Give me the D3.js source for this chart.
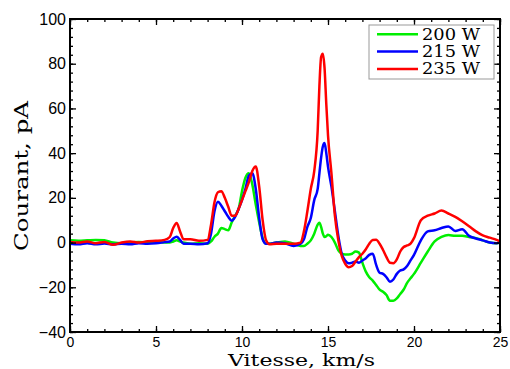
<!DOCTYPE html>
<html><head><meta charset="utf-8">
<script src="https://cdn.jsdelivr.net/npm/d3@7"></script>
<style>body{margin:0;background:#fff;} svg{display:block;}</style>
</head><body>
<svg id="c" width="510" height="369"></svg>
<script>
const speeds = [0,0.5,1,1.5,2,2.5,3,3.5,4,4.5,5,5.5,5.8,6.0,6.2,6.4,6.6,7.0,7.5,8.0,8.2,8.4,8.6,8.8,9.0,9.2,9.4,9.6,9.8,10.0,10.2,10.4,10.6,10.8,11.0,11.2,11.4,11.6,12.0,12.5,13.0,13.4,13.6,13.8,14.0,14.2,14.4,14.5,14.6,14.7,14.8,14.9,15.0,15.2,15.4,15.6,15.8,16.0,16.2,16.4,16.6,16.8,17.0,17.2,17.4,17.6,17.8,18.0,18.2,18.4,18.6,18.8,19.0,19.2,19.4,19.6,19.8,20.0,20.4,20.8,21.2,21.6,22.0,22.4,22.8,23.2,23.6,24.0,24.4,24.8,25.0];
const current200 = [1,0.8,1,1.2,1,0,-0.3,0,0.3,0,0.2,0,0,0.5,1,0.5,0,-0.5,-0.3,-0.5,0.5,2.6,4,6.5,6,5.5,9,12,15,23,29,31,26,17,9,2,-0.5,-0.5,0,0.5,-0.5,-1.5,-1.5,-0.5,1,4,8,8.9,7,4,2.5,2.8,3.5,2.5,0,-3.5,-5,-5.3,-5.3,-5,-4,-4.5,-9,-13,-15.5,-17,-19,-21,-22,-23.5,-26,-26,-25,-23,-21,-18,-16,-14,-9,-4,0.5,2.5,3.4,3,3,2.5,2,1,0,-0.3,0];
const current215 = [-0.5,-0.8,-0.3,-0.8,-0.4,-0.8,-0.5,-0.8,-0.3,-0.5,-0.3,0.2,0.5,1.8,2.6,1.2,-0.5,-0.5,-0.8,-0.3,4,14,18.3,16.5,14,11.5,9.8,11.5,15,19,24,30,31,24,11,1.5,-0.5,-0.5,0,-0.3,-1.5,-0.5,1.5,7,11,19,24,31,38,43,44.5,40,34,25,14,3,-5,-8,-9.3,-9,-8.5,-9,-8,-7,-5.5,-5,-10,-13.5,-14,-15.5,-17.5,-16.5,-14,-12.5,-12,-10.5,-8,-5.5,1,5,5.5,6.5,7.2,5.2,6,3,1.8,1,0,-0.3,0];
const current235 = [0.3,0,0.5,-0.3,0.3,-1,0,0.5,0,0.6,0.8,1.2,2.5,6.5,8.8,5,1.5,1.5,0.8,1.2,8,18,22.5,23,20,16,12,12,15,19,23,27,32,34,25,10,1,-0.8,-0.5,-0.5,-0.5,0,5,14,24,32,50,70,83,84.5,78,62,48,31,12,1,-6,-9.5,-11,-10.5,-8.5,-6.5,-5,-3,-0.5,1.2,1.3,-0.5,-3.3,-6.5,-9,-9.2,-7.5,-4,-2,-1.3,-0.5,2,10,12,13,14.3,13,11.5,9.5,7.3,5,3.2,2.2,1.2,0.5];
const seriesNames = ["200 W","215 W","235 W"];
const seriesColors = ["#00ee00","#0000ff","#ff0000"];
const xTicks = [0,5,10,15,20,25];
const yTicks = [-40,-20,0,20,40,60,80,100];
const xLabel = "Vitesse, km/s";
const yLabel = "Courant, pA";

const svg = d3.select("#c");
const L=70,R=500,T=19,B=332;
const x = d3.scaleLinear().domain([0,25]).range([L,R]);
const y = d3.scaleLinear().domain([-40,100]).range([B,T]);

const series=[current200,current215,current235];
const line = d3.line().x((d,i)=>x(speeds[i])).y(d=>y(d)).curve(d3.curveMonotoneX);
svg.append("clipPath").attr("id","cp").append("rect").attr("x",L).attr("y",T).attr("width",R-L).attr("height",B-T);
series.forEach((s,k)=>{
  svg.append("path").attr("d",line(s)).attr("fill","none").attr("stroke",seriesColors[k]).attr("stroke-width",2.5).attr("stroke-linejoin","round").attr("clip-path","url(#cp)");
});

const tickFont = "'Liberation Sans', Arial, sans-serif";
const minorX = d3.range(0,25.01,1);
const minorY = d3.range(-40,100.01,4);
const axB = d3.axisBottom(x).tickValues(xTicks).tickSize(-6).tickPadding(5).tickFormat(d3.format("d"));
const axBm = d3.axisBottom(x).tickValues(minorX).tickSize(-3).tickFormat("");
const axT = d3.axisTop(x).tickValues(xTicks).tickSize(-6).tickFormat("");
const axTm = d3.axisTop(x).tickValues(minorX).tickSize(-3).tickFormat("");
const axL = d3.axisLeft(y).tickValues(yTicks).tickSize(-6).tickPadding(4).tickFormat(d3.format("d"));
const axLm = d3.axisLeft(y).tickValues(minorY).tickSize(-3).tickFormat("");
const axR = d3.axisRight(y).tickValues(yTicks).tickSize(-6).tickFormat("");
const axRm = d3.axisRight(y).tickValues(minorY).tickSize(-3).tickFormat("");

function place(ax,tr,fs){
  const g=svg.append("g").attr("transform",tr).call(ax);
  g.select(".domain").remove();
  g.selectAll(".tick line").attr("stroke","#000").attr("stroke-width",1.3);
  g.selectAll("text").attr("fill","#000").style("font-family",tickFont).style("font-size",fs||"16px");
  return g;
}
place(axBm,`translate(0,${B})`); place(axB,`translate(0,${B})`,"14px");
place(axTm,`translate(0,${T})`); place(axT,`translate(0,${T})`);
place(axLm,`translate(${L},0)`); place(axL,`translate(${L},0)`,"16px");
place(axRm,`translate(${R},0)`); place(axR,`translate(${R},0)`);

svg.append("rect").attr("x",L).attr("y",T).attr("width",R-L).attr("height",B-T).attr("fill","none").attr("stroke","#000").attr("stroke-width",2);

const serif = "'DejaVu Serif', 'Liberation Serif', serif";
svg.append("text").attr("x",301.5).attr("y",365.5).attr("text-anchor","middle")
  .attr("textLength",147).attr("lengthAdjust","spacingAndGlyphs")
  .style("font-family",serif).style("font-size","16px").text(xLabel);
svg.append("text").attr("transform",`translate(28,${176}) rotate(-90)`).attr("text-anchor","middle")
  .attr("textLength",150).attr("lengthAdjust","spacingAndGlyphs")
  .style("font-family",serif).style("font-size","18px").text(yLabel);

const lg = svg.append("g");
lg.append("rect").attr("x",369).attr("y",25).attr("width",125).attr("height",54).attr("fill","#fff").attr("stroke","#999").attr("stroke-width",1);
seriesNames.forEach((n,i)=>{
  const yy = 34.3 + i*17.3;
  lg.append("line").attr("x1",377).attr("x2",418).attr("y1",yy).attr("y2",yy).attr("stroke",seriesColors[i]).attr("stroke-width",2.5);
  lg.append("text").attr("x",422).attr("y",yy+5.5).attr("textLength",58).attr("lengthAdjust","spacingAndGlyphs")
    .style("font-family",serif).style("font-size","16px").text(n);
});
</script>
</body></html>
